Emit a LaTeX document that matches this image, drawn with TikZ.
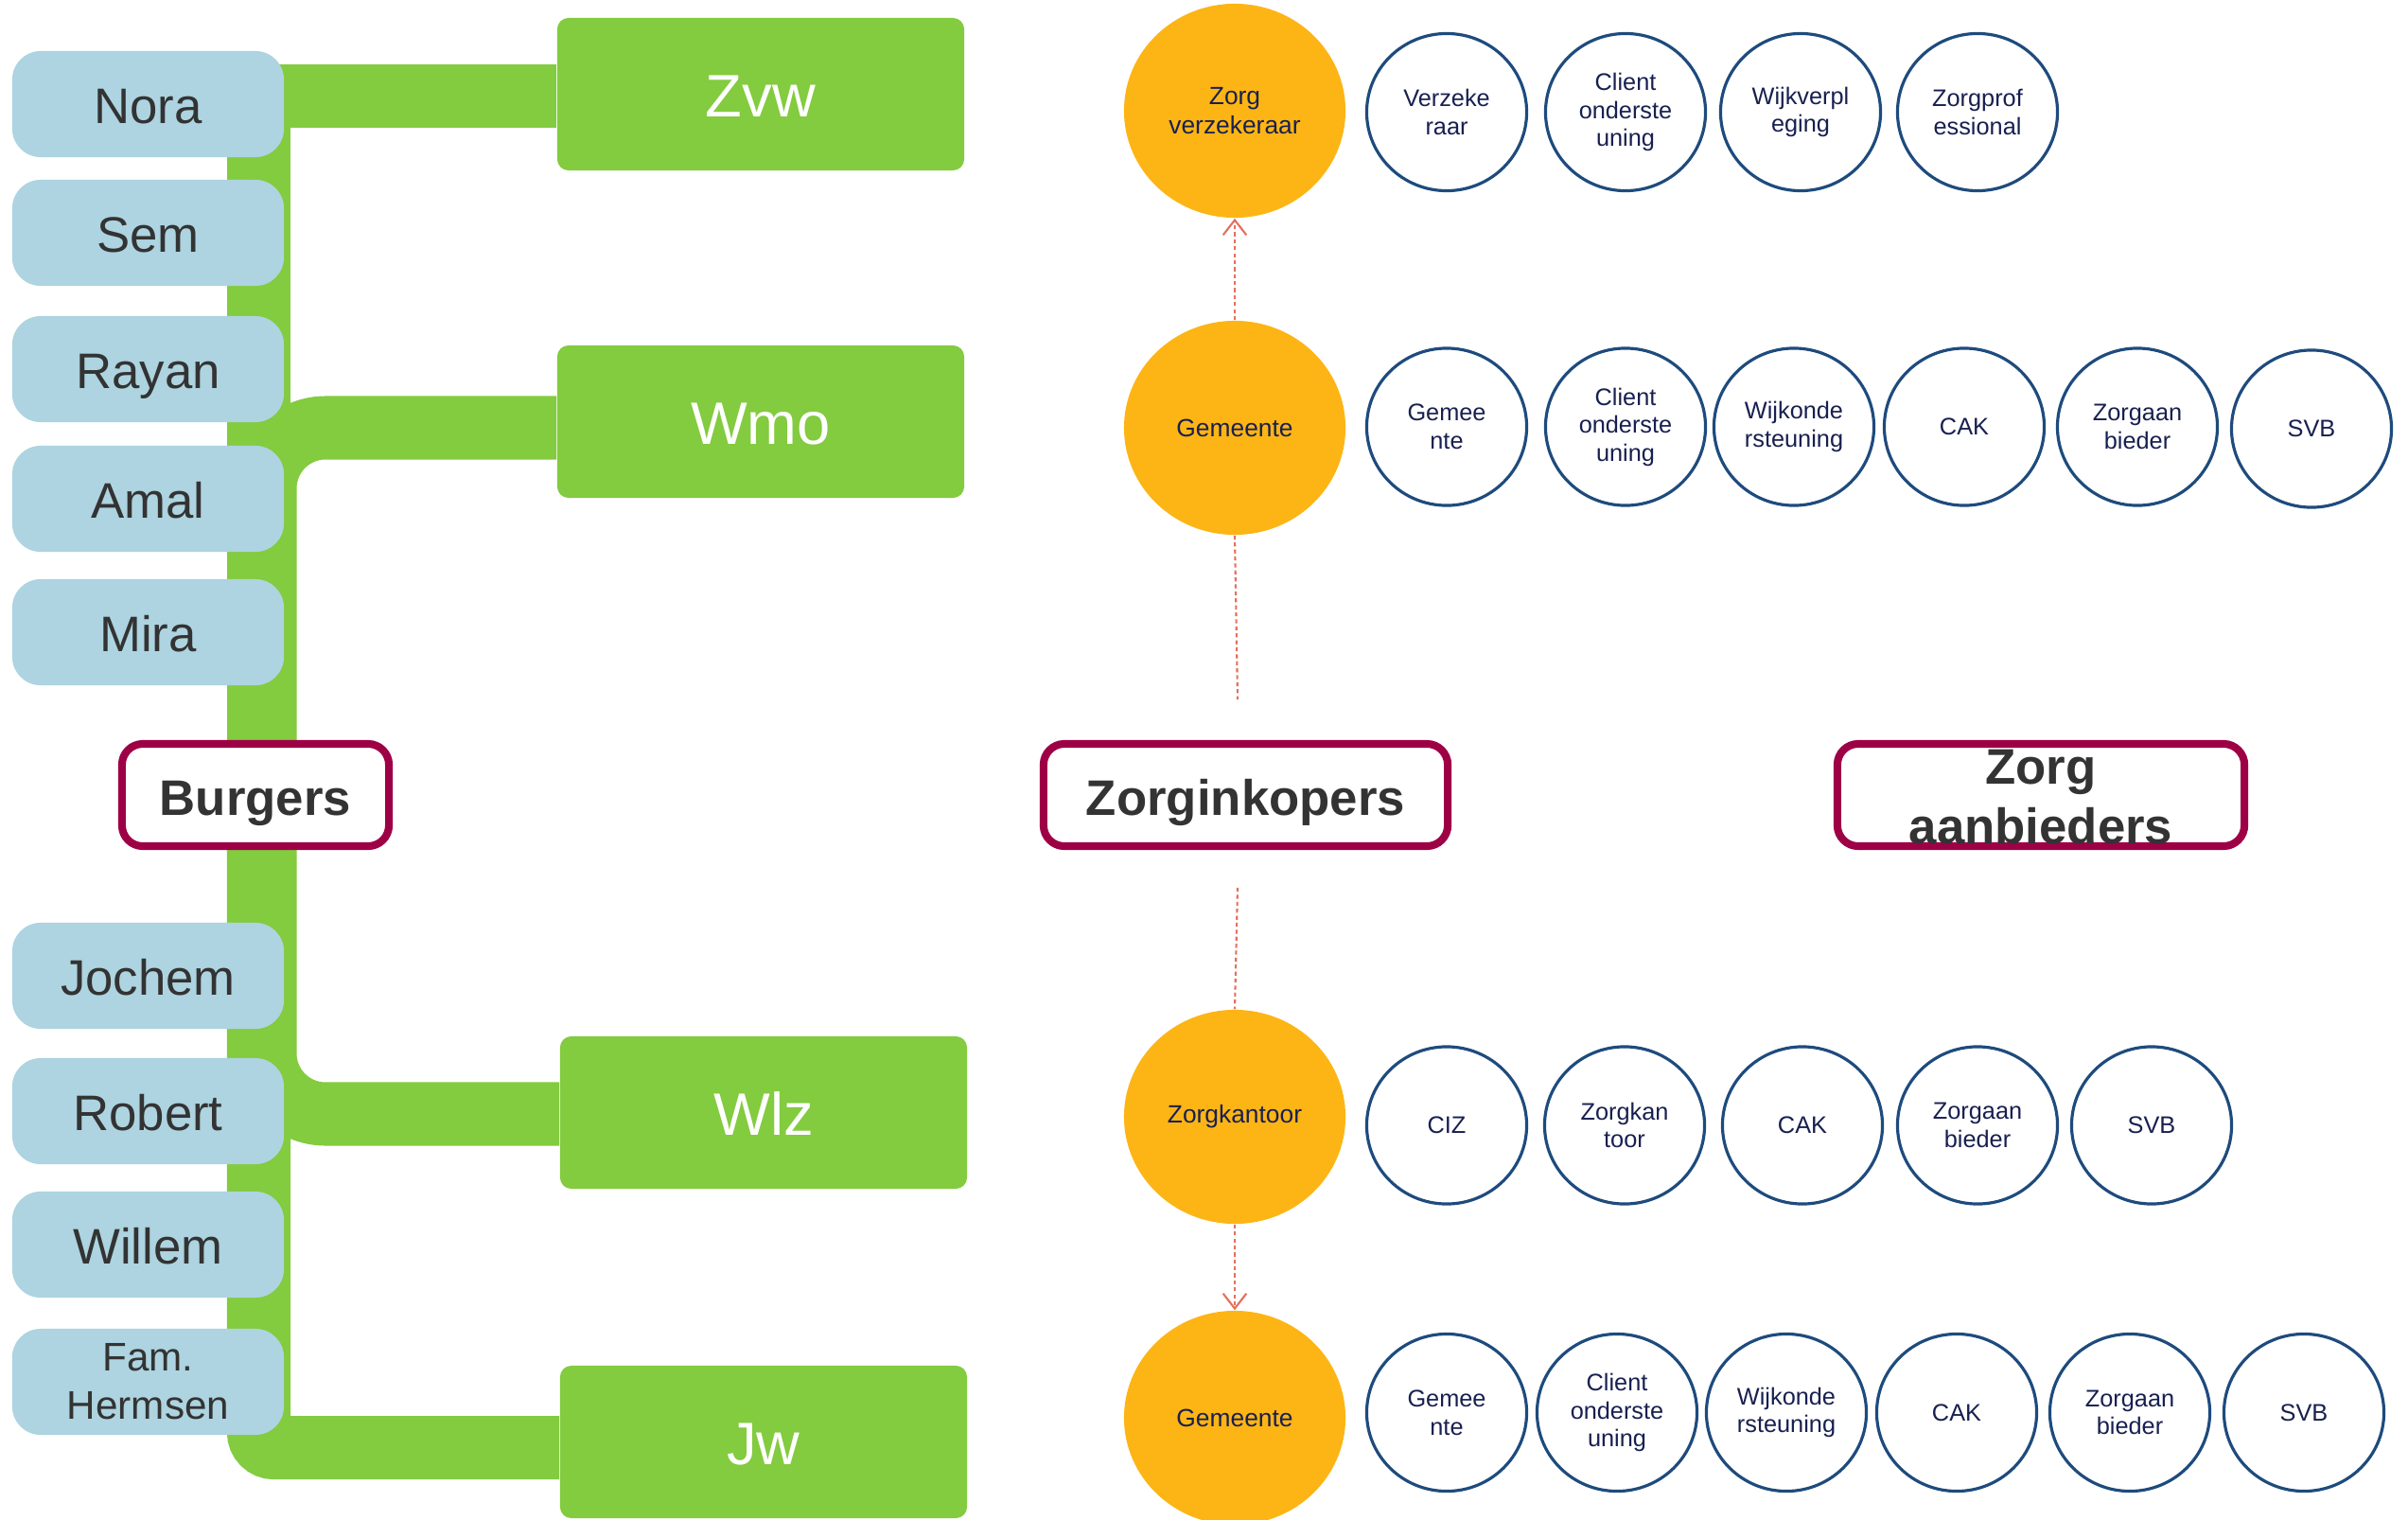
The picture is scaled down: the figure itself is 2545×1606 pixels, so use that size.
\documentclass[tikz,border=0pt]{standalone}
\usepackage{fontspec}
\setmainfont{Liberation Sans}
\usetikzlibrary{shapes.geometric,arrows.meta,backgrounds}
\definecolor{grn}{RGB}{131,203,63}
\definecolor{lblue}{RGB}{173,212,224}
\definecolor{crim}{RGB}{158,0,70}
\definecolor{orng}{RGB}{253,181,21}
\definecolor{navy}{RGB}{24,32,80}
\definecolor{cblue}{RGB}{30,75,125}
\definecolor{salmon}{RGB}{228,112,92}
\definecolor{dgray}{RGB}{51,51,51}
\begin{document}
\begin{tikzpicture}[x=0.01cm,y=-0.01cm,
  person/.style={rectangle, rounded corners=0.3cm, fill=lblue, minimum width=2.87cm, minimum height=1.12cm, text=dgray, font=\fontsize{15}{18}\selectfont, align=center, inner sep=0pt},
  oneline/.style={text height=11.7pt, text depth=0pt},
  law/.style={rectangle, rounded corners=0.12cm, fill=grn, minimum width=4.3cm, minimum height=1.61cm, text=white, font=\fontsize{18}{21}\selectfont, inner sep=0pt, text height=13.8pt, text depth=0pt},
  header/.style={rectangle, rounded corners=0.22cm, draw=crim, line width=2.3pt, fill=white, minimum height=1.08cm, text=dgray, font=\fontsize{15}{18}\selectfont\bfseries, align=center, inner sep=0pt},
  htext/.style={text=dgray, font=\fontsize{15}{18}\selectfont\bfseries, align=center, inner sep=0pt},
  conn/.style={draw=grn, line width=0.67cm},
  buyer/.style={ellipse, fill=orng, minimum width=2.34cm, minimum height=2.26cm, text=navy, font=\fontsize{7.5}{9}\selectfont, align=center, inner sep=0pt},
  prov/.style={ellipse, draw=cblue, line width=0.9pt, fill=white, minimum width=1.69cm, minimum height=1.66cm, text=navy, font=\fontsize{7.2}{8.4}\selectfont, align=center, inner sep=0pt},
  dotline/.style={draw=salmon, line width=0.6pt, dash pattern=on 1.2pt off 0.9pt},
  dotarrow/.style={dotline, -{Straight Barb[length=4.5pt,width=7pt]}}
]
\useasboundingbox (0,0) rectangle (2545,1606);

% law boxes
\node[law] (zvw) at (804,99.5) {Zvw};
\node[law] (wmo) at (804,445.5) {Wmo};
\node[law] (wlz) at (807,1175.5) {Wlz};
\node[law] (jw) at (807,1523.5) {Jw};

% headers
\node[header, minimum width=2.82cm, text height=12.1pt, text depth=0pt] (burgers) at (270,840) {Burgers};
\node[header, minimum width=4.27cm, text height=12.1pt, text depth=0pt] (inkopers) at (1316.5,840) {Zorginkopers};
\node[header, minimum width=4.30cm] (aanb) at (2157,840) {};
\node[htext] (aanbtext) at (2157,842) {Zorg\\aanbieders};

% green connectors behind the boxes
\begin{scope}[on background layer]
\fill[white] (0,0) rectangle (2545,1606);
\draw[conn] ([xshift=0.035cm]burgers.north) |- ([yshift=-0.02cm]zvw.west);
\draw[conn, rounded corners=0.64cm] ([xshift=0.1cm]burgers.north) |- ([yshift=-0.065cm]wmo.west);
\draw[conn, rounded corners=0.64cm] ([xshift=0.1cm]burgers.south) |- ([yshift=-0.015cm]wlz.west);
\draw[conn, rounded corners=0.16cm] ([xshift=0.035cm]burgers.south) |- ([yshift=-0.06cm]jw.west);
\end{scope}

% persons
\node[person, oneline] (nora) at (156.5,110) {Nora};
\node[person, oneline] (sem) at (156.5,246) {Sem};
\node[person, oneline] (rayan) at (156.5,390) {Rayan};
\node[person, oneline] (amal) at (156.5,527) {Amal};
\node[person, oneline] (mira) at (156.5,668) {Mira};
\node[person, oneline] (jochem) at (156.5,1031) {Jochem};
\node[person, oneline] (robert) at (156.5,1174) {Robert};
\node[person, oneline] (willem) at (156.5,1315) {Willem};
\node[person, font=\fontsize{12}{14.5}\selectfont] (fam) at (156.5,1460) {Fam.\\Hermsen};

% buyers
\node[buyer] (zv) at (1305,117) {Zorg\\verzekeraar};
\node[buyer] (gem1) at (1305,452) {Gemeente};
\node[buyer] (zk) at (1305,1180) {Zorgkantoor};
\node[buyer] (gem2) at (1305,1498) {Gemeente};

% providers row 1
\node[prov] (r1a) at (1529,118.5) {Verzeke\\raar};
\node[prov] (r1b) at (1718,118.5) {Client\\onderste\\uning};
\node[prov] (r1c) at (1903,118.5) {Wijkverpl\\eging};
\node[prov] (r1d) at (2090,118.5) {Zorgprof\\essional};
% row 2
\node[prov] (r2a) at (1529,451) {Gemee\\nte};
\node[prov] (r2b) at (1718,451) {Client\\onderste\\uning};
\node[prov] (r2c) at (1896,451) {Wijkonde\\rsteuning};
\node[prov] (r2d) at (2076,451) {CAK};
\node[prov] (r2e) at (2259,451) {Zorgaan\\bieder};
\node[prov] (r2f) at (2443,453) {SVB};
% row 3
\node[prov] (r3a) at (1529,1189) {CIZ};
\node[prov] (r3b) at (1717,1189) {Zorgkan\\toor};
\node[prov] (r3c) at (1905,1189) {CAK};
\node[prov] (r3d) at (2090,1189) {Zorgaan\\bieder};
\node[prov] (r3e) at (2274,1189) {SVB};
% row 4
\node[prov] (r4a) at (1529,1492.5) {Gemee\\nte};
\node[prov] (r4b) at (1709,1492.5) {Client\\onderste\\uning};
\node[prov] (r4c) at (1888,1492.5) {Wijkonde\\rsteuning};
\node[prov] (r4d) at (2068,1492.5) {CAK};
\node[prov] (r4e) at (2251,1492.5) {Zorgaan\\bieder};
\node[prov] (r4f) at (2435,1492.5) {SVB};

% dotted connectors
\coordinate (d2) at (1308,739);
\coordinate (d3) at (1308,938);
\draw[dotarrow] (gem1.north) -- (zv.south);
\draw[dotline] (gem1.south) -- (d2);
\draw[dotline] (d3) -- (zk.north);
\draw[dotarrow] (zk.south) -- (gem2.north);
\end{tikzpicture}
\end{document}
